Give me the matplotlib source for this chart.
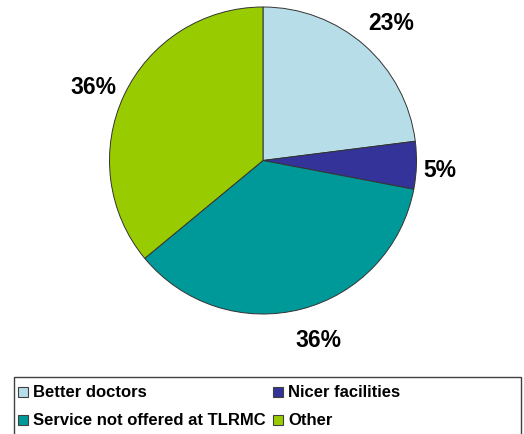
import matplotlib
matplotlib.use("Agg")
import matplotlib.pyplot as plt
from matplotlib.patches import Rectangle

categories = ["Better doctors", "Nicer facilities", "Service not offered at TLRMC", "Other"]
values = [23, 5, 36, 36]
colors = ["#B7DEE8", "#333399", "#009999", "#99CC00"]

# label centres, in units of the pie radius (layout only)
label_pos = [(0.836, 0.907), (1.153, -0.046), (0.364, -1.154), (-1.107, 0.492)]

plt.rcParams['font.family'] = ['Liberation Sans', 'DejaVu Sans']

W, H = 524, 435
fig = plt.figure(figsize=(W / 100, H / 100), dpi=100)

cx, cy, r = 263, 161.5, 153.5
ax = fig.add_axes([(cx - r) / W, (H - cy - r) / H, 2 * r / W, 2 * r / H])
fs = 16.5
wedges, texts, autotexts = ax.pie(
    values, colors=colors, startangle=90, counterclock=False,
    autopct=lambda p: f"{p:.0f}%", pctdistance=1.2,
    wedgeprops=dict(edgecolor="#333333", linewidth=0.7),
    textprops=dict(fontsize=fs, fontweight="bold", color="black"),
)
cap = fs * 100 / 72 * 0.716 / 2 / r
for t, (px, py) in zip(autotexts, label_pos):
    t.set_position((px, py - cap))
    t.set_va("baseline")
ax.set_xlim(-1, 1)
ax.set_ylim(-1, 1)
ax.set_aspect("equal")

# legend box (manual, extends past bottom edge)
lx0, lx1, ly0 = 14, 521, 378
fig.patches.append(Rectangle((lx0 / W, -0.05), (lx1 - lx0) / W, (H - ly0) / H + 0.05,
                             transform=fig.transFigure, facecolor="white",
                             edgecolor="#404040", linewidth=1.0))
col_x = [18, 273]
row_y = [393, 421]
order = [(0, 0), (1, 0), (0, 1), (1, 1)]  # (col,row) for each category
sq = 10
for i, (c, rr) in enumerate(order):
    x = col_x[c]
    y = row_y[rr]
    fig.patches.append(Rectangle((x / W, (H - y - sq / 2) / H), sq / W, sq / H,
                                 transform=fig.transFigure, facecolor=colors[i],
                                 edgecolor="#404040", linewidth=0.8))
    fig.text((x + sq + 5) / W, (H - y) / H, categories[i], fontsize=12,
             fontweight="bold", va="center", ha="left")

fig.savefig("out.png", dpi=100)
